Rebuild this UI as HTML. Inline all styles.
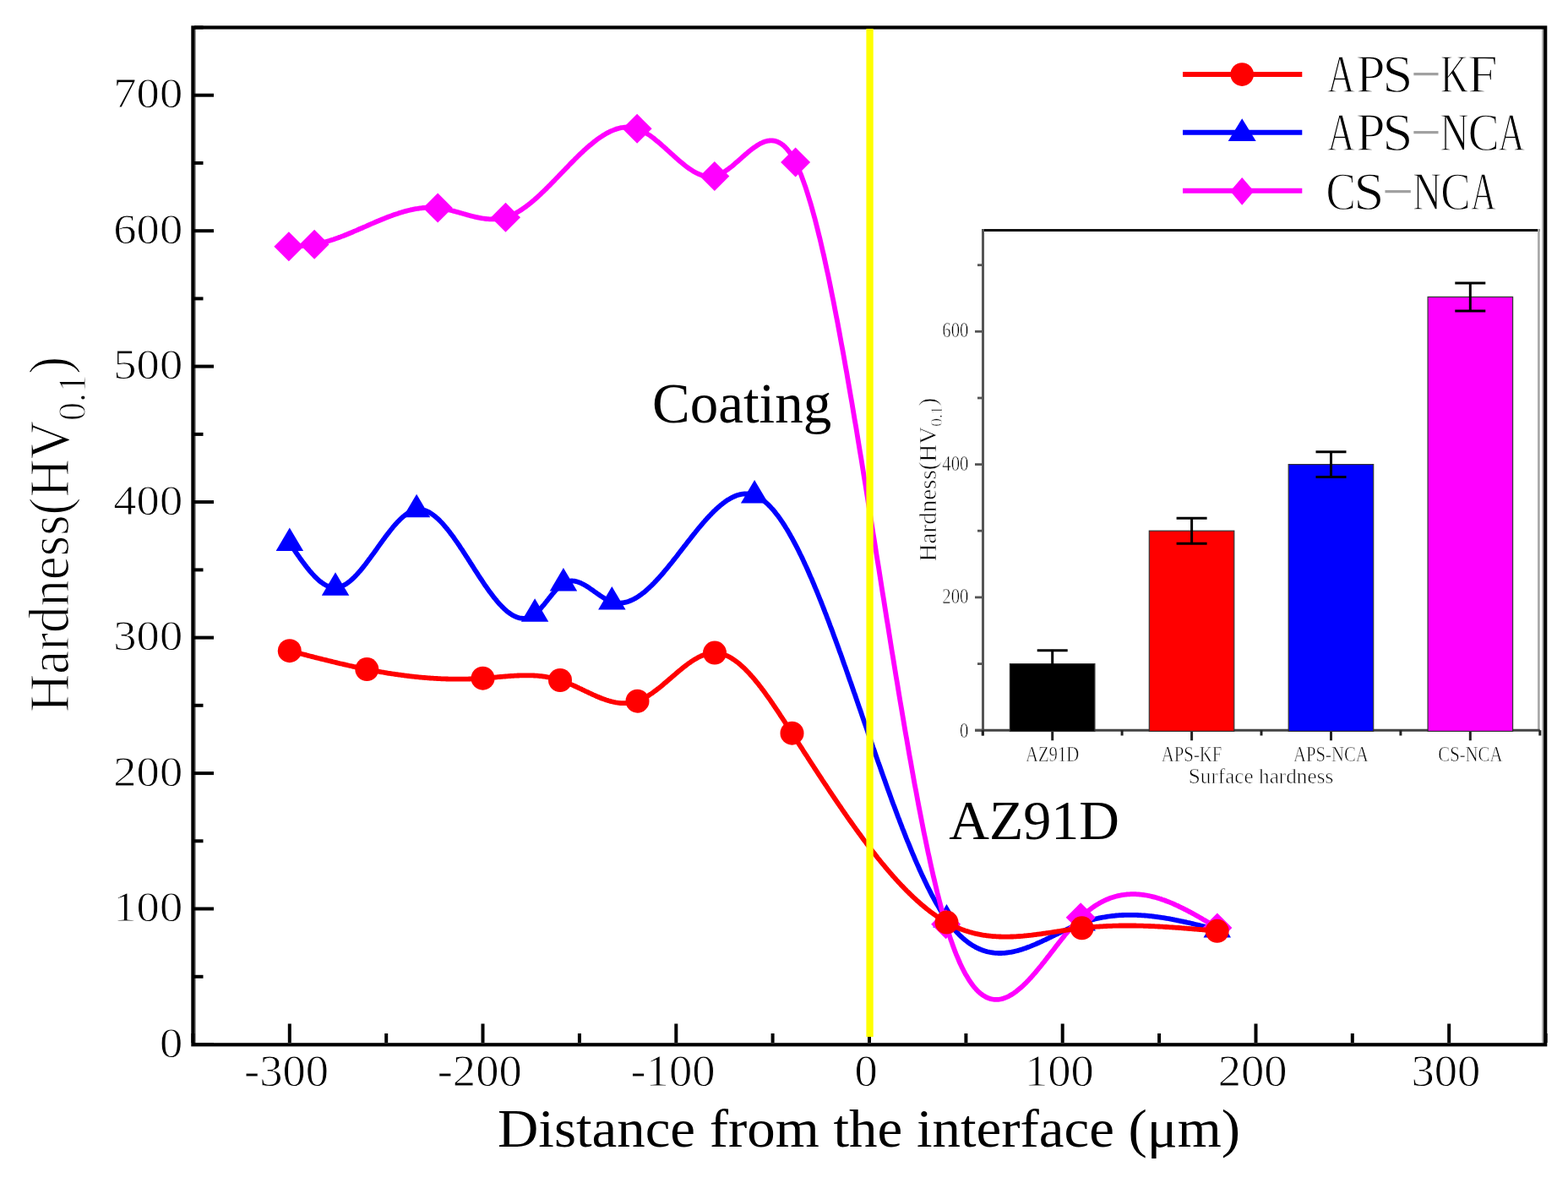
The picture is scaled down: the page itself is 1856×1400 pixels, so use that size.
<!DOCTYPE html><html><head><meta charset="utf-8"><title>Hardness profile</title>
<style>html,body{margin:0;padding:0;background:#fff;}svg{display:block;}text{font-family:'Liberation Serif', 'Times New Roman', serif;fill:#000;} .thin{stroke:#fff;stroke-width:0.9px;} .thin2{stroke:#fff;stroke-width:0.6px;} .thin3{stroke:#fff;stroke-width:1.2px;} .thin4{stroke:#fff;stroke-width:1.3px;}</style></head><body>
<svg width="1856" height="1400" viewBox="0 0 1856 1400">
<rect x="0" y="0" width="1856" height="1400" fill="#fff"/>
<path d="M342.8,642.7 L344.0,644.5 L345.3,646.3 L346.5,648.1 L347.7,649.9 L348.9,651.7 L350.1,653.5 L351.4,655.3 L352.6,657.0 L353.8,658.7 L355.0,660.5 L356.2,662.2 L357.5,663.8 L358.7,665.5 L359.9,667.1 L361.1,668.7 L362.4,670.3 L363.6,671.9 L364.8,673.4 L366.0,674.9 L367.2,676.3 L368.5,677.7 L369.7,679.1 L370.9,680.4 L372.1,681.7 L373.3,683.0 L374.6,684.2 L375.8,685.3 L377.0,686.4 L378.2,687.4 L379.4,688.4 L380.7,689.4 L381.9,690.2 L383.1,691.1 L384.3,691.8 L385.6,692.5 L386.8,693.1 L388.0,693.7 L389.2,694.2 L390.4,694.6 L391.7,694.9 L392.9,695.2 L394.1,695.4 L395.3,695.5 L396.5,695.5 L397.8,695.5 L399.0,695.4 L400.2,695.2 L401.4,694.9 L402.7,694.5 L403.9,694.1 L405.1,693.6 L406.3,693.0 L407.5,692.3 L408.8,691.6 L410.0,690.9 L411.2,690.0 L412.4,689.1 L413.6,688.2 L414.9,687.2 L416.1,686.1 L417.3,685.0 L418.5,683.9 L419.7,682.7 L421.0,681.4 L422.2,680.1 L423.4,678.8 L424.6,677.4 L425.9,676.0 L427.1,674.6 L428.3,673.1 L429.5,671.6 L430.7,670.1 L432.0,668.5 L433.2,666.9 L434.4,665.3 L435.6,663.7 L436.8,662.1 L438.1,660.4 L439.3,658.7 L440.5,657.1 L441.7,655.4 L443.0,653.7 L444.2,652.0 L445.4,650.3 L446.6,648.6 L447.8,646.9 L449.1,645.1 L450.3,643.4 L451.5,641.8 L452.7,640.1 L453.9,638.4 L455.2,636.7 L456.4,635.1 L457.6,633.5 L458.8,631.9 L460.1,630.3 L461.3,628.7 L462.5,627.2 L463.7,625.7 L464.9,624.2 L466.2,622.7 L467.4,621.3 L468.6,620.0 L469.8,618.6 L471.0,617.3 L472.3,616.1 L473.5,614.8 L474.7,613.7 L475.9,612.6 L477.1,611.5 L478.4,610.5 L479.6,609.5 L480.8,608.6 L482.0,607.8 L483.3,607.0 L484.5,606.3 L485.7,605.6 L486.9,605.0 L488.1,604.5 L489.4,604.0 L490.6,603.6 L491.8,603.3 L493.0,603.1 L494.2,603.0 L495.5,602.9 L496.7,602.9 L497.9,603.0 L499.1,603.1 L500.4,603.4 L501.6,603.7 L502.8,604.0 L504.0,604.5 L505.2,605.0 L506.5,605.5 L507.7,606.1 L508.9,606.8 L510.1,607.6 L511.3,608.4 L512.6,609.3 L513.8,610.2 L515.0,611.1 L516.2,612.2 L517.4,613.2 L518.7,614.4 L519.9,615.5 L521.1,616.8 L522.3,618.0 L523.6,619.3 L524.8,620.7 L526.0,622.1 L527.2,623.5 L528.4,625.0 L529.7,626.5 L530.9,628.0 L532.1,629.6 L533.3,631.2 L534.5,632.8 L535.8,634.5 L537.0,636.1 L538.2,637.9 L539.4,639.6 L540.7,641.4 L541.9,643.1 L543.1,644.9 L544.3,646.7 L545.5,648.6 L546.8,650.4 L548.0,652.3 L549.2,654.2 L550.4,656.0 L551.6,657.9 L552.9,659.8 L554.1,661.7 L555.3,663.6 L556.5,665.6 L557.8,667.5 L559.0,669.4 L560.2,671.3 L561.4,673.2 L562.6,675.1 L563.9,677.0 L565.1,678.9 L566.3,680.8 L567.5,682.6 L568.7,684.5 L570.0,686.3 L571.2,688.2 L572.4,690.0 L573.6,691.8 L574.8,693.6 L576.1,695.3 L577.3,697.0 L578.5,698.8 L579.7,700.4 L581.0,702.1 L582.2,703.7 L583.4,705.3 L584.6,706.9 L585.8,708.4 L587.1,709.9 L588.3,711.4 L589.5,712.8 L590.7,714.2 L591.9,715.5 L593.2,716.8 L594.4,718.1 L595.6,719.3 L596.8,720.5 L598.1,721.6 L599.3,722.7 L600.5,723.7 L601.7,724.6 L602.9,725.5 L604.2,726.4 L605.4,727.2 L606.6,727.9 L607.8,728.6 L609.0,729.2 L610.3,729.8 L611.5,730.3 L612.7,730.7 L613.9,731.1 L615.1,731.4 L616.4,731.6 L617.6,731.7 L618.8,731.8 L620.0,731.8 L621.3,731.7 L622.5,731.5 L623.7,731.3 L624.9,731.0 L626.1,730.6 L627.4,730.1 L628.6,729.5 L629.8,728.9 L631.0,728.1 L632.2,727.3 L633.5,726.4 L634.7,725.3 L635.9,724.2 L637.1,723.1 L638.4,721.8 L639.6,720.5 L640.8,719.1 L642.0,717.7 L643.2,716.3 L644.5,714.8 L645.7,713.3 L646.9,711.8 L648.1,710.2 L649.3,708.7 L650.6,707.2 L651.8,705.6 L653.0,704.1 L654.2,702.6 L655.5,701.2 L656.7,699.8 L657.9,698.4 L659.1,697.1 L660.3,695.8 L661.6,694.6 L662.8,693.5 L664.0,692.5 L665.2,691.5 L666.4,690.7 L667.7,690.0 L668.9,689.3 L670.1,688.8 L671.3,688.4 L672.5,688.0 L673.8,687.8 L675.0,687.6 L676.2,687.5 L677.4,687.5 L678.7,687.6 L679.9,687.7 L681.1,687.9 L682.3,688.2 L683.5,688.6 L684.8,689.0 L686.0,689.4 L687.2,689.9 L688.4,690.5 L689.6,691.1 L690.9,691.7 L692.1,692.4 L693.3,693.1 L694.5,693.9 L695.8,694.6 L697.0,695.4 L698.2,696.3 L699.4,697.1 L700.6,698.0 L701.9,698.8 L703.1,699.7 L704.3,700.6 L705.5,701.4 L706.7,702.3 L708.0,703.2 L709.2,704.0 L710.4,704.8 L711.6,705.6 L712.8,706.4 L714.1,707.2 L715.3,708.0 L716.5,708.7 L717.7,709.3 L719.0,710.0 L720.2,710.6 L721.4,711.1 L722.6,711.6 L723.8,712.1 L725.1,712.5 L726.3,712.8 L727.5,713.1 L728.7,713.3 L729.9,713.4 L731.2,713.6 L732.4,713.6 L733.6,713.6 L734.8,713.6 L736.1,713.5 L737.3,713.4 L738.5,713.2 L739.7,712.9 L740.9,712.6 L742.2,712.3 L743.4,711.9 L744.6,711.5 L745.8,711.0 L747.0,710.5 L748.3,710.0 L749.5,709.4 L750.7,708.7 L751.9,708.1 L753.2,707.4 L754.4,706.6 L755.6,705.8 L756.8,705.0 L758.0,704.2 L759.3,703.3 L760.5,702.3 L761.7,701.4 L762.9,700.4 L764.1,699.4 L765.4,698.3 L766.6,697.2 L767.8,696.1 L769.0,695.0 L770.2,693.8 L771.5,692.6 L772.7,691.4 L773.9,690.2 L775.1,688.9 L776.4,687.6 L777.6,686.3 L778.8,685.0 L780.0,683.7 L781.2,682.3 L782.5,680.9 L783.7,679.5 L784.9,678.1 L786.1,676.6 L787.3,675.2 L788.6,673.7 L789.8,672.2 L791.0,670.8 L792.2,669.2 L793.5,667.7 L794.7,666.2 L795.9,664.7 L797.1,663.1 L798.3,661.6 L799.6,660.0 L800.8,658.5 L802.0,656.9 L803.2,655.3 L804.4,653.8 L805.7,652.2 L806.9,650.6 L808.1,649.0 L809.3,647.4 L810.5,645.9 L811.8,644.3 L813.0,642.7 L814.2,641.1 L815.4,639.6 L816.7,638.0 L817.9,636.4 L819.1,634.9 L820.3,633.4 L821.5,631.8 L822.8,630.3 L824.0,628.8 L825.2,627.3 L826.4,625.8 L827.6,624.3 L828.9,622.8 L830.1,621.4 L831.3,620.0 L832.5,618.5 L833.8,617.1 L835.0,615.7 L836.2,614.4 L837.4,613.0 L838.6,611.7 L839.9,610.4 L841.1,609.1 L842.3,607.9 L843.5,606.6 L844.7,605.4 L846.0,604.2 L847.2,603.0 L848.4,601.9 L849.6,600.8 L850.9,599.7 L852.1,598.7 L853.3,597.6 L854.5,596.7 L855.7,595.7 L857.0,594.8 L858.2,593.9 L859.4,593.0 L860.6,592.2 L861.8,591.4 L863.1,590.7 L864.3,590.0 L865.5,589.3 L866.7,588.7 L867.9,588.1 L869.2,587.5 L870.4,587.0 L871.6,586.5 L872.8,586.1 L874.1,585.7 L875.3,585.4 L876.5,585.1 L877.7,584.9 L878.9,584.7 L880.2,584.5 L881.4,584.5 L882.6,584.4 L883.8,584.4 L885.0,584.5 L886.3,584.6 L887.5,584.8 L888.7,585.0 L889.9,585.3 L891.2,585.6 L892.4,586.0 L893.6,586.4 L894.8,586.9 L896.0,587.5 L897.3,588.1 L898.5,588.8 L899.7,589.5 L900.9,590.3 L902.1,591.2 L903.4,592.1 L904.6,593.0 L905.8,594.0 L907.0,595.1 L908.2,596.2 L909.5,597.4 L910.7,598.6 L911.9,599.8 L913.1,601.2 L914.4,602.5 L915.6,603.9 L916.8,605.4 L918.0,606.9 L919.2,608.5 L920.5,610.1 L921.7,611.7 L922.9,613.4 L924.1,615.1 L925.3,616.9 L926.6,618.7 L927.8,620.6 L929.0,622.5 L930.2,624.5 L931.5,626.5 L932.7,628.5 L933.9,630.6 L935.1,632.7 L936.3,634.9 L937.6,637.1 L938.8,639.3 L940.0,641.6 L941.2,643.9 L942.4,646.2 L943.7,648.6 L944.9,651.0 L946.1,653.5 L947.3,656.0 L948.6,658.5 L949.8,661.0 L951.0,663.6 L952.2,666.3 L953.4,668.9 L954.7,671.6 L955.9,674.3 L957.1,677.0 L958.3,679.8 L959.5,682.6 L960.8,685.4 L962.0,688.3 L963.2,691.2 L964.4,694.1 L965.6,697.0 L966.9,700.0 L968.1,703.0 L969.3,706.0 L970.5,709.0 L971.8,712.1 L973.0,715.2 L974.2,718.3 L975.4,721.4 L976.6,724.6 L977.9,727.7 L979.1,730.9 L980.3,734.1 L981.5,737.3 L982.7,740.6 L984.0,743.9 L985.2,747.1 L986.4,750.4 L987.6,753.7 L988.9,757.1 L990.1,760.4 L991.3,763.8 L992.5,767.1 L993.7,770.5 L995.0,773.9 L996.2,777.3 L997.4,780.8 L998.6,784.2 L999.8,787.6 L1001.1,791.1 L1002.3,794.6 L1003.5,798.0 L1004.7,801.5 L1005.9,805.0 L1007.2,808.5 L1008.4,812.0 L1009.6,815.5 L1010.8,819.0 L1012.1,822.5 L1013.3,826.1 L1014.5,829.6 L1015.7,833.1 L1016.9,836.6 L1018.2,840.2 L1019.4,843.7 L1020.6,847.3 L1021.8,850.8 L1023.0,854.3 L1024.3,857.9 L1025.5,861.4 L1026.7,864.9 L1027.9,868.5 L1029.2,872.0 L1030.4,875.5 L1031.6,879.1 L1032.8,882.6 L1034.0,886.1 L1035.3,889.6 L1036.5,893.1 L1037.7,896.6 L1038.9,900.1 L1040.1,903.6 L1041.4,907.1 L1042.6,910.5 L1043.8,914.0 L1045.0,917.4 L1046.3,920.9 L1047.5,924.3 L1048.7,927.7 L1049.9,931.1 L1051.1,934.5 L1052.4,937.9 L1053.6,941.2 L1054.8,944.6 L1056.0,947.9 L1057.2,951.2 L1058.5,954.5 L1059.7,957.8 L1060.9,961.1 L1062.1,964.3 L1063.3,967.5 L1064.6,970.7 L1065.8,973.9 L1067.0,977.1 L1068.2,980.3 L1069.5,983.4 L1070.7,986.5 L1071.9,989.6 L1073.1,992.7 L1074.3,995.7 L1075.6,998.7 L1076.8,1001.7 L1078.0,1004.7 L1079.2,1007.6 L1080.4,1010.5 L1081.7,1013.4 L1082.9,1016.3 L1084.1,1019.1 L1085.3,1021.9 L1086.6,1024.7 L1087.8,1027.5 L1089.0,1030.2 L1090.2,1032.9 L1091.4,1035.5 L1092.7,1038.1 L1093.9,1040.7 L1095.1,1043.3 L1096.3,1045.8 L1097.5,1048.3 L1098.8,1050.8 L1100.0,1053.2 L1101.2,1055.6 L1102.4,1058.0 L1103.6,1060.3 L1104.9,1062.6 L1106.1,1064.8 L1107.3,1067.0 L1108.5,1069.2 L1109.8,1071.3 L1111.0,1073.4 L1112.2,1075.4 L1113.4,1077.4 L1114.6,1079.4 L1115.9,1081.3 L1117.1,1083.2 L1118.3,1085.0 L1119.5,1086.8 L1120.7,1088.6 L1122.0,1090.3 L1123.2,1091.9 L1124.4,1093.5 L1125.6,1095.1 L1126.9,1096.6 L1128.1,1098.1 L1129.3,1099.6 L1130.5,1101.0 L1131.7,1102.3 L1133.0,1103.7 L1134.2,1104.9 L1135.4,1106.2 L1136.6,1107.4 L1137.8,1108.5 L1139.1,1109.7 L1140.3,1110.8 L1141.5,1111.8 L1142.7,1112.8 L1144.0,1113.8 L1145.2,1114.7 L1146.4,1115.6 L1147.6,1116.5 L1148.8,1117.3 L1150.1,1118.1 L1151.3,1118.9 L1152.5,1119.6 L1153.7,1120.3 L1154.9,1121.0 L1156.2,1121.6 L1157.4,1122.2 L1158.6,1122.7 L1159.8,1123.3 L1161.0,1123.8 L1162.3,1124.2 L1163.5,1124.7 L1164.7,1125.1 L1165.9,1125.5 L1167.2,1125.8 L1168.4,1126.2 L1169.6,1126.5 L1170.8,1126.7 L1172.0,1127.0 L1173.3,1127.2 L1174.5,1127.4 L1175.7,1127.5 L1176.9,1127.7 L1178.1,1127.8 L1179.4,1127.9 L1180.6,1127.9 L1181.8,1128.0 L1183.0,1128.0 L1184.3,1128.0 L1185.5,1128.0 L1186.7,1127.9 L1187.9,1127.9 L1189.1,1127.8 L1190.4,1127.6 L1191.6,1127.5 L1192.8,1127.4 L1194.0,1127.2 L1195.2,1127.0 L1196.5,1126.8 L1197.7,1126.6 L1198.9,1126.3 L1200.1,1126.1 L1201.3,1125.8 L1202.6,1125.5 L1203.8,1125.2 L1205.0,1124.9 L1206.2,1124.5 L1207.5,1124.2 L1208.7,1123.8 L1209.9,1123.4 L1211.1,1123.0 L1212.3,1122.6 L1213.6,1122.2 L1214.8,1121.7 L1216.0,1121.3 L1217.2,1120.8 L1218.4,1120.4 L1219.7,1119.9 L1220.9,1119.4 L1222.1,1118.9 L1223.3,1118.4 L1224.6,1117.9 L1225.8,1117.4 L1227.0,1116.8 L1228.2,1116.3 L1229.4,1115.8 L1230.7,1115.2 L1231.9,1114.6 L1233.1,1114.1 L1234.3,1113.5 L1235.5,1112.9 L1236.8,1112.4 L1238.0,1111.8 L1239.2,1111.2 L1240.4,1110.6 L1241.7,1110.0 L1242.9,1109.4 L1244.1,1108.8 L1245.3,1108.2 L1246.5,1107.6 L1247.8,1107.0 L1249.0,1106.4 L1250.2,1105.9 L1251.4,1105.3 L1252.6,1104.7 L1253.9,1104.1 L1255.1,1103.5 L1256.3,1102.9 L1257.5,1102.3 L1258.7,1101.7 L1260.0,1101.1 L1261.2,1100.6 L1262.4,1100.0 L1263.6,1099.4 L1264.9,1098.9 L1266.1,1098.3 L1267.3,1097.8 L1268.5,1097.2 L1269.7,1096.7 L1271.0,1096.2 L1272.2,1095.7 L1273.4,1095.2 L1274.6,1094.7 L1275.8,1094.2 L1277.1,1093.7 L1278.3,1093.2 L1279.5,1092.8 L1280.7,1092.3 L1282.0,1091.9 L1283.2,1091.5 L1284.4,1091.1 L1285.6,1090.7 L1286.8,1090.3 L1288.1,1089.9 L1289.3,1089.5 L1290.5,1089.2 L1291.7,1088.8 L1292.9,1088.5 L1294.2,1088.2 L1295.4,1087.8 L1296.6,1087.5 L1297.8,1087.2 L1299.0,1087.0 L1300.3,1086.7 L1301.5,1086.4 L1302.7,1086.2 L1303.9,1085.9 L1305.2,1085.7 L1306.4,1085.5 L1307.6,1085.3 L1308.8,1085.1 L1310.0,1084.9 L1311.3,1084.7 L1312.5,1084.5 L1313.7,1084.3 L1314.9,1084.2 L1316.1,1084.0 L1317.4,1083.9 L1318.6,1083.8 L1319.8,1083.6 L1321.0,1083.5 L1322.3,1083.4 L1323.5,1083.3 L1324.7,1083.2 L1325.9,1083.2 L1327.1,1083.1 L1328.4,1083.0 L1329.6,1083.0 L1330.8,1082.9 L1332.0,1082.9 L1333.2,1082.8 L1334.5,1082.8 L1335.7,1082.8 L1336.9,1082.8 L1338.1,1082.8 L1339.4,1082.8 L1340.6,1082.8 L1341.8,1082.8 L1343.0,1082.9 L1344.2,1082.9 L1345.5,1082.9 L1346.7,1083.0 L1347.9,1083.1 L1349.1,1083.1 L1350.3,1083.2 L1351.6,1083.3 L1352.8,1083.3 L1354.0,1083.4 L1355.2,1083.5 L1356.4,1083.6 L1357.7,1083.7 L1358.9,1083.8 L1360.1,1084.0 L1361.3,1084.1 L1362.6,1084.2 L1363.8,1084.4 L1365.0,1084.5 L1366.2,1084.6 L1367.4,1084.8 L1368.7,1085.0 L1369.9,1085.1 L1371.1,1085.3 L1372.3,1085.5 L1373.5,1085.6 L1374.8,1085.8 L1376.0,1086.0 L1377.2,1086.2 L1378.4,1086.4 L1379.7,1086.6 L1380.9,1086.8 L1382.1,1087.0 L1383.3,1087.2 L1384.5,1087.4 L1385.8,1087.7 L1387.0,1087.9 L1388.2,1088.1 L1389.4,1088.3 L1390.6,1088.6 L1391.9,1088.8 L1393.1,1089.1 L1394.3,1089.3 L1395.5,1089.6 L1396.7,1089.8 L1398.0,1090.1 L1399.2,1090.3 L1400.4,1090.6 L1401.6,1090.9 L1402.9,1091.1 L1404.1,1091.4 L1405.3,1091.7 L1406.5,1092.0 L1407.7,1092.2 L1409.0,1092.5 L1410.2,1092.8 L1411.4,1093.1 L1412.6,1093.4 L1413.8,1093.7 L1415.1,1094.0 L1416.3,1094.3 L1417.5,1094.6 L1418.7,1094.9 L1420.0,1095.2 L1421.2,1095.5 L1422.4,1095.8 L1423.6,1096.1 L1424.8,1096.4 L1426.1,1096.7 L1427.3,1097.0 L1428.5,1097.3 L1429.7,1097.6 L1430.9,1097.9 L1432.2,1098.2 L1433.4,1098.5 L1434.6,1098.8 L1435.8,1099.2 L1437.1,1099.5 L1438.3,1099.8 L1439.5,1100.1 L1440.7,1100.4" fill="none" stroke="#0000ff" stroke-width="5.8" stroke-linejoin="round"/>
<polygon points="342.8,624.4 359.1,651.9 326.6,651.9" fill="#0000ff"/>
<polygon points="397.0,677.2 413.3,704.7 380.8,704.7" fill="#0000ff"/>
<polygon points="493.1,584.8 509.3,612.3 476.8,612.3" fill="#0000ff"/>
<polygon points="633.1,708.3 649.3,735.8 616.8,735.8" fill="#0000ff"/>
<polygon points="666.9,672.1 683.2,699.6 650.7,699.6" fill="#0000ff"/>
<polygon points="724.3,693.9 740.6,721.4 708.1,721.4" fill="#0000ff"/>
<polygon points="893.1,567.9 909.4,595.4 876.9,595.4" fill="#0000ff"/>
<polygon points="1120.5,1069.9 1136.7,1097.4 1104.2,1097.4" fill="#0000ff"/>
<polygon points="1280.6,1074.0 1296.9,1101.5 1264.4,1101.5" fill="#0000ff"/>
<polygon points="1440.7,1082.1 1457.0,1109.6 1424.5,1109.6" fill="#0000ff"/>
<path d="M341.9,291.8 L343.1,291.7 L344.3,291.7 L345.6,291.6 L346.8,291.6 L348.0,291.5 L349.2,291.5 L350.5,291.4 L351.7,291.4 L352.9,291.3 L354.1,291.2 L355.3,291.1 L356.6,291.0 L357.8,291.0 L359.0,290.9 L360.2,290.7 L361.5,290.6 L362.7,290.5 L363.9,290.4 L365.1,290.2 L366.3,290.1 L367.6,289.9 L368.8,289.8 L370.0,289.6 L371.2,289.4 L372.5,289.2 L373.7,288.9 L374.9,288.7 L376.1,288.5 L377.3,288.2 L378.6,287.9 L379.8,287.6 L381.0,287.3 L382.2,287.0 L383.5,286.7 L384.7,286.4 L385.9,286.1 L387.1,285.7 L388.4,285.3 L389.6,285.0 L390.8,284.6 L392.0,284.2 L393.2,283.8 L394.5,283.4 L395.7,283.0 L396.9,282.6 L398.1,282.1 L399.4,281.7 L400.6,281.3 L401.8,280.8 L403.0,280.4 L404.2,279.9 L405.5,279.4 L406.7,279.0 L407.9,278.5 L409.1,278.0 L410.4,277.5 L411.6,277.0 L412.8,276.5 L414.0,276.0 L415.2,275.5 L416.5,275.0 L417.7,274.5 L418.9,273.9 L420.1,273.4 L421.4,272.9 L422.6,272.4 L423.8,271.8 L425.0,271.3 L426.2,270.8 L427.5,270.3 L428.7,269.7 L429.9,269.2 L431.1,268.6 L432.4,268.1 L433.6,267.6 L434.8,267.0 L436.0,266.5 L437.3,266.0 L438.5,265.4 L439.7,264.9 L440.9,264.4 L442.1,263.9 L443.4,263.3 L444.6,262.8 L445.8,262.3 L447.0,261.8 L448.3,261.3 L449.5,260.7 L450.7,260.2 L451.9,259.7 L453.1,259.2 L454.4,258.7 L455.6,258.2 L456.8,257.8 L458.0,257.3 L459.3,256.8 L460.5,256.3 L461.7,255.9 L462.9,255.4 L464.1,255.0 L465.4,254.5 L466.6,254.1 L467.8,253.7 L469.0,253.3 L470.3,252.9 L471.5,252.5 L472.7,252.1 L473.9,251.7 L475.2,251.3 L476.4,250.9 L477.6,250.6 L478.8,250.2 L480.0,249.9 L481.3,249.6 L482.5,249.3 L483.7,249.0 L484.9,248.7 L486.2,248.4 L487.4,248.1 L488.6,247.9 L489.8,247.6 L491.0,247.4 L492.3,247.2 L493.5,247.0 L494.7,246.8 L495.9,246.6 L497.2,246.4 L498.4,246.3 L499.6,246.1 L500.8,246.0 L502.0,245.9 L503.3,245.8 L504.5,245.7 L505.7,245.7 L506.9,245.6 L508.2,245.6 L509.4,245.6 L510.6,245.6 L511.8,245.6 L513.0,245.7 L514.3,245.7 L515.5,245.8 L516.7,245.9 L517.9,246.0 L519.2,246.2 L520.4,246.3 L521.6,246.5 L522.8,246.7 L524.1,246.9 L525.3,247.1 L526.5,247.3 L527.7,247.6 L528.9,247.8 L530.2,248.1 L531.4,248.4 L532.6,248.7 L533.8,248.9 L535.1,249.3 L536.3,249.6 L537.5,249.9 L538.7,250.2 L539.9,250.6 L541.2,250.9 L542.4,251.2 L543.6,251.6 L544.8,251.9 L546.1,252.3 L547.3,252.6 L548.5,253.0 L549.7,253.3 L550.9,253.7 L552.2,254.0 L553.4,254.4 L554.6,254.7 L555.8,255.0 L557.1,255.4 L558.3,255.7 L559.5,256.0 L560.7,256.3 L561.9,256.6 L563.2,256.9 L564.4,257.1 L565.6,257.4 L566.8,257.7 L568.1,257.9 L569.3,258.1 L570.5,258.3 L571.7,258.5 L573.0,258.7 L574.2,258.9 L575.4,259.0 L576.6,259.1 L577.8,259.2 L579.1,259.3 L580.3,259.4 L581.5,259.4 L582.7,259.4 L584.0,259.4 L585.2,259.4 L586.4,259.4 L587.6,259.3 L588.8,259.2 L590.1,259.0 L591.3,258.9 L592.5,258.7 L593.7,258.5 L595.0,258.2 L596.2,257.9 L597.4,257.6 L598.6,257.3 L599.8,256.9 L601.1,256.5 L602.3,256.0 L603.5,255.5 L604.7,255.0 L606.0,254.5 L607.2,253.9 L608.4,253.3 L609.6,252.7 L610.9,252.0 L612.1,251.4 L613.3,250.6 L614.5,249.9 L615.7,249.1 L617.0,248.4 L618.2,247.5 L619.4,246.7 L620.6,245.8 L621.9,245.0 L623.1,244.1 L624.3,243.1 L625.5,242.2 L626.7,241.2 L628.0,240.2 L629.2,239.2 L630.4,238.2 L631.6,237.2 L632.9,236.1 L634.1,235.0 L635.3,234.0 L636.5,232.9 L637.7,231.7 L639.0,230.6 L640.2,229.5 L641.4,228.3 L642.6,227.1 L643.9,226.0 L645.1,224.8 L646.3,223.6 L647.5,222.4 L648.7,221.1 L650.0,219.9 L651.2,218.7 L652.4,217.4 L653.6,216.2 L654.9,214.9 L656.1,213.7 L657.3,212.4 L658.5,211.1 L659.8,209.9 L661.0,208.6 L662.2,207.3 L663.4,206.1 L664.6,204.8 L665.9,203.5 L667.1,202.2 L668.3,201.0 L669.5,199.7 L670.8,198.4 L672.0,197.2 L673.2,195.9 L674.4,194.6 L675.6,193.4 L676.9,192.1 L678.1,190.9 L679.3,189.7 L680.5,188.4 L681.8,187.2 L683.0,186.0 L684.2,184.8 L685.4,183.6 L686.6,182.4 L687.9,181.3 L689.1,180.1 L690.3,179.0 L691.5,177.8 L692.8,176.7 L694.0,175.6 L695.2,174.5 L696.4,173.5 L697.6,172.4 L698.9,171.4 L700.1,170.4 L701.3,169.4 L702.5,168.4 L703.8,167.4 L705.0,166.5 L706.2,165.5 L707.4,164.6 L708.7,163.8 L709.9,162.9 L711.1,162.1 L712.3,161.3 L713.5,160.5 L714.8,159.7 L716.0,159.0 L717.2,158.3 L718.4,157.6 L719.7,156.9 L720.9,156.3 L722.1,155.7 L723.3,155.1 L724.5,154.6 L725.8,154.1 L727.0,153.6 L728.2,153.2 L729.4,152.7 L730.7,152.4 L731.9,152.0 L733.1,151.7 L734.3,151.4 L735.5,151.2 L736.8,151.0 L738.0,150.8 L739.2,150.7 L740.4,150.6 L741.7,150.5 L742.9,150.5 L744.1,150.6 L745.3,150.6 L746.5,150.7 L747.8,150.9 L749.0,151.1 L750.2,151.3 L751.4,151.6 L752.7,151.9 L753.9,152.3 L755.1,152.7 L756.3,153.2 L757.6,153.7 L758.8,154.2 L760.0,154.8 L761.2,155.4 L762.4,156.1 L763.7,156.8 L764.9,157.5 L766.1,158.3 L767.3,159.1 L768.6,159.9 L769.8,160.7 L771.0,161.6 L772.2,162.5 L773.4,163.4 L774.7,164.4 L775.9,165.4 L777.1,166.4 L778.3,167.4 L779.6,168.4 L780.8,169.4 L782.0,170.5 L783.2,171.6 L784.4,172.7 L785.7,173.7 L786.9,174.8 L788.1,175.9 L789.3,177.1 L790.6,178.2 L791.8,179.3 L793.0,180.4 L794.2,181.5 L795.5,182.6 L796.7,183.7 L797.9,184.8 L799.1,185.9 L800.3,187.0 L801.6,188.1 L802.8,189.2 L804.0,190.2 L805.2,191.3 L806.5,192.3 L807.7,193.3 L808.9,194.3 L810.1,195.3 L811.3,196.2 L812.6,197.2 L813.8,198.1 L815.0,199.0 L816.2,199.8 L817.5,200.6 L818.7,201.4 L819.9,202.2 L821.1,202.9 L822.3,203.6 L823.6,204.3 L824.8,204.9 L826.0,205.5 L827.2,206.0 L828.5,206.5 L829.7,207.0 L830.9,207.4 L832.1,207.8 L833.3,208.1 L834.6,208.4 L835.8,208.6 L837.0,208.8 L838.2,208.9 L839.5,209.0 L840.7,209.0 L841.9,208.9 L843.1,208.8 L844.4,208.6 L845.6,208.4 L846.8,208.1 L848.0,207.7 L849.2,207.3 L850.5,206.9 L851.7,206.3 L852.9,205.8 L854.1,205.1 L855.4,204.5 L856.6,203.7 L857.8,203.0 L859.0,202.2 L860.2,201.3 L861.5,200.5 L862.7,199.6 L863.9,198.6 L865.1,197.7 L866.4,196.7 L867.6,195.7 L868.8,194.7 L870.0,193.6 L871.2,192.6 L872.5,191.5 L873.7,190.5 L874.9,189.4 L876.1,188.3 L877.4,187.2 L878.6,186.1 L879.8,185.1 L881.0,184.0 L882.2,182.9 L883.5,181.9 L884.7,180.8 L885.9,179.8 L887.1,178.8 L888.4,177.8 L889.6,176.8 L890.8,175.9 L892.0,175.0 L893.3,174.1 L894.5,173.3 L895.7,172.5 L896.9,171.7 L898.1,171.0 L899.4,170.3 L900.6,169.6 L901.8,169.1 L903.0,168.5 L904.3,168.0 L905.5,167.6 L906.7,167.2 L907.9,166.9 L909.1,166.7 L910.4,166.5 L911.6,166.4 L912.8,166.3 L914.0,166.4 L915.3,166.5 L916.5,166.7 L917.7,166.9 L918.9,167.3 L920.1,167.7 L921.4,168.3 L922.6,168.9 L923.8,169.6 L925.0,170.4 L926.3,171.3 L927.5,172.3 L928.7,173.4 L929.9,174.6 L931.2,176.0 L932.4,177.4 L933.6,179.0 L934.8,180.6 L936.0,182.4 L937.3,184.3 L938.5,186.3 L939.7,188.5 L940.9,190.8 L942.2,193.2 L943.4,195.8 L944.6,198.4 L945.8,201.2 L947.0,204.2 L948.3,207.2 L949.5,210.4 L950.7,213.7 L951.9,217.1 L953.2,220.7 L954.4,224.3 L955.6,228.1 L956.8,232.0 L958.0,236.0 L959.3,240.1 L960.5,244.3 L961.7,248.6 L962.9,253.1 L964.2,257.6 L965.4,262.2 L966.6,267.0 L967.8,271.8 L969.0,276.7 L970.3,281.8 L971.5,286.9 L972.7,292.1 L973.9,297.4 L975.2,302.8 L976.4,308.3 L977.6,313.8 L978.8,319.5 L980.1,325.2 L981.3,331.0 L982.5,336.9 L983.7,342.9 L984.9,348.9 L986.2,355.0 L987.4,361.2 L988.6,367.5 L989.8,373.8 L991.1,380.2 L992.3,386.6 L993.5,393.1 L994.7,399.7 L995.9,406.4 L997.2,413.1 L998.4,419.8 L999.6,426.6 L1000.8,433.5 L1002.1,440.4 L1003.3,447.4 L1004.5,454.4 L1005.7,461.5 L1006.9,468.6 L1008.2,475.7 L1009.4,482.9 L1010.6,490.2 L1011.8,497.4 L1013.1,504.7 L1014.3,512.1 L1015.5,519.5 L1016.7,526.9 L1017.9,534.3 L1019.2,541.8 L1020.4,549.3 L1021.6,556.8 L1022.8,564.3 L1024.1,571.9 L1025.3,579.5 L1026.5,587.1 L1027.7,594.7 L1029.0,602.4 L1030.2,610.0 L1031.4,617.7 L1032.6,625.4 L1033.8,633.0 L1035.1,640.7 L1036.3,648.4 L1037.5,656.1 L1038.7,663.8 L1040.0,671.5 L1041.2,679.2 L1042.4,686.9 L1043.6,694.6 L1044.8,702.3 L1046.1,710.0 L1047.3,717.7 L1048.5,725.3 L1049.7,733.0 L1051.0,740.6 L1052.2,748.2 L1053.4,755.8 L1054.6,763.4 L1055.8,770.9 L1057.1,778.5 L1058.3,786.0 L1059.5,793.4 L1060.7,800.9 L1062.0,808.3 L1063.2,815.7 L1064.4,823.1 L1065.6,830.4 L1066.9,837.7 L1068.1,844.9 L1069.3,852.1 L1070.5,859.3 L1071.7,866.4 L1073.0,873.5 L1074.2,880.6 L1075.4,887.5 L1076.6,894.5 L1077.9,901.4 L1079.1,908.2 L1080.3,915.0 L1081.5,921.7 L1082.7,928.4 L1084.0,935.0 L1085.2,941.5 L1086.4,948.0 L1087.6,954.4 L1088.9,960.8 L1090.1,967.1 L1091.3,973.3 L1092.5,979.4 L1093.7,985.5 L1095.0,991.5 L1096.2,997.4 L1097.4,1003.2 L1098.6,1009.0 L1099.9,1014.7 L1101.1,1020.3 L1102.3,1025.8 L1103.5,1031.2 L1104.7,1036.5 L1106.0,1041.8 L1107.2,1046.9 L1108.4,1052.0 L1109.6,1057.0 L1110.9,1061.9 L1112.1,1066.6 L1113.3,1071.3 L1114.5,1075.9 L1115.8,1080.4 L1117.0,1084.7 L1118.2,1089.0 L1119.4,1093.1 L1120.6,1097.2 L1121.9,1101.1 L1123.1,1104.9 L1124.3,1108.7 L1125.5,1112.3 L1126.8,1115.8 L1128.0,1119.2 L1129.2,1122.5 L1130.4,1125.7 L1131.6,1128.8 L1132.9,1131.8 L1134.1,1134.7 L1135.3,1137.5 L1136.5,1140.2 L1137.8,1142.9 L1139.0,1145.4 L1140.2,1147.8 L1141.4,1150.2 L1142.6,1152.4 L1143.9,1154.6 L1145.1,1156.6 L1146.3,1158.6 L1147.5,1160.5 L1148.8,1162.3 L1150.0,1164.1 L1151.2,1165.7 L1152.4,1167.3 L1153.6,1168.7 L1154.9,1170.1 L1156.1,1171.5 L1157.3,1172.7 L1158.5,1173.9 L1159.8,1175.0 L1161.0,1176.0 L1162.2,1176.9 L1163.4,1177.8 L1164.7,1178.6 L1165.9,1179.3 L1167.1,1180.0 L1168.3,1180.5 L1169.5,1181.1 L1170.8,1181.5 L1172.0,1181.9 L1173.2,1182.2 L1174.4,1182.5 L1175.7,1182.7 L1176.9,1182.8 L1178.1,1182.9 L1179.3,1182.9 L1180.5,1182.9 L1181.8,1182.8 L1183.0,1182.7 L1184.2,1182.5 L1185.4,1182.2 L1186.7,1181.9 L1187.9,1181.5 L1189.1,1181.1 L1190.3,1180.6 L1191.5,1180.1 L1192.8,1179.6 L1194.0,1179.0 L1195.2,1178.3 L1196.4,1177.6 L1197.7,1176.9 L1198.9,1176.1 L1200.1,1175.3 L1201.3,1174.4 L1202.6,1173.6 L1203.8,1172.6 L1205.0,1171.6 L1206.2,1170.6 L1207.4,1169.6 L1208.7,1168.5 L1209.9,1167.4 L1211.1,1166.3 L1212.3,1165.1 L1213.6,1163.9 L1214.8,1162.7 L1216.0,1161.4 L1217.2,1160.2 L1218.4,1158.9 L1219.7,1157.5 L1220.9,1156.2 L1222.1,1154.8 L1223.3,1153.4 L1224.6,1152.0 L1225.8,1150.6 L1227.0,1149.1 L1228.2,1147.7 L1229.4,1146.2 L1230.7,1144.7 L1231.9,1143.2 L1233.1,1141.7 L1234.3,1140.1 L1235.6,1138.6 L1236.8,1137.1 L1238.0,1135.5 L1239.2,1133.9 L1240.4,1132.4 L1241.7,1130.8 L1242.9,1129.2 L1244.1,1127.6 L1245.3,1126.1 L1246.6,1124.5 L1247.8,1122.9 L1249.0,1121.3 L1250.2,1119.7 L1251.5,1118.2 L1252.7,1116.6 L1253.9,1115.0 L1255.1,1113.5 L1256.3,1111.9 L1257.6,1110.4 L1258.8,1108.9 L1260.0,1107.3 L1261.2,1105.8 L1262.5,1104.4 L1263.7,1102.9 L1264.9,1101.4 L1266.1,1100.0 L1267.3,1098.5 L1268.6,1097.1 L1269.8,1095.7 L1271.0,1094.4 L1272.2,1093.0 L1273.5,1091.7 L1274.7,1090.4 L1275.9,1089.1 L1277.1,1087.9 L1278.3,1086.7 L1279.6,1085.5 L1280.8,1084.3 L1282.0,1083.2 L1283.2,1082.1 L1284.5,1081.0 L1285.7,1079.9 L1286.9,1078.9 L1288.1,1077.9 L1289.3,1077.0 L1290.6,1076.0 L1291.8,1075.1 L1293.0,1074.2 L1294.2,1073.4 L1295.5,1072.5 L1296.7,1071.7 L1297.9,1070.9 L1299.1,1070.2 L1300.4,1069.4 L1301.6,1068.7 L1302.8,1068.1 L1304.0,1067.4 L1305.2,1066.8 L1306.5,1066.2 L1307.7,1065.6 L1308.9,1065.0 L1310.1,1064.5 L1311.4,1064.0 L1312.6,1063.5 L1313.8,1063.0 L1315.0,1062.6 L1316.2,1062.2 L1317.5,1061.8 L1318.7,1061.4 L1319.9,1061.0 L1321.1,1060.7 L1322.4,1060.4 L1323.6,1060.1 L1324.8,1059.8 L1326.0,1059.6 L1327.2,1059.4 L1328.5,1059.2 L1329.7,1059.0 L1330.9,1058.8 L1332.1,1058.7 L1333.4,1058.5 L1334.6,1058.4 L1335.8,1058.3 L1337.0,1058.3 L1338.3,1058.2 L1339.5,1058.2 L1340.7,1058.2 L1341.9,1058.2 L1343.1,1058.2 L1344.4,1058.2 L1345.6,1058.3 L1346.8,1058.4 L1348.0,1058.4 L1349.3,1058.6 L1350.5,1058.7 L1351.7,1058.8 L1352.9,1059.0 L1354.1,1059.1 L1355.4,1059.3 L1356.6,1059.5 L1357.8,1059.7 L1359.0,1060.0 L1360.3,1060.2 L1361.5,1060.5 L1362.7,1060.8 L1363.9,1061.1 L1365.1,1061.4 L1366.4,1061.7 L1367.6,1062.0 L1368.8,1062.3 L1370.0,1062.7 L1371.3,1063.1 L1372.5,1063.5 L1373.7,1063.8 L1374.9,1064.3 L1376.1,1064.7 L1377.4,1065.1 L1378.6,1065.5 L1379.8,1066.0 L1381.0,1066.5 L1382.3,1066.9 L1383.5,1067.4 L1384.7,1067.9 L1385.9,1068.4 L1387.2,1068.9 L1388.4,1069.4 L1389.6,1070.0 L1390.8,1070.5 L1392.0,1071.1 L1393.3,1071.6 L1394.5,1072.2 L1395.7,1072.8 L1396.9,1073.4 L1398.2,1074.0 L1399.4,1074.6 L1400.6,1075.2 L1401.8,1075.8 L1403.0,1076.4 L1404.3,1077.0 L1405.5,1077.7 L1406.7,1078.3 L1407.9,1079.0 L1409.2,1079.6 L1410.4,1080.3 L1411.6,1080.9 L1412.8,1081.6 L1414.0,1082.3 L1415.3,1083.0 L1416.5,1083.7 L1417.7,1084.3 L1418.9,1085.0 L1420.2,1085.7 L1421.4,1086.4 L1422.6,1087.1 L1423.8,1087.9 L1425.0,1088.6 L1426.3,1089.3 L1427.5,1090.0 L1428.7,1090.7 L1429.9,1091.4 L1431.2,1092.2 L1432.4,1092.9 L1433.6,1093.6 L1434.8,1094.3 L1436.1,1095.1 L1437.3,1095.8 L1438.5,1096.5 L1439.7,1097.3 L1440.9,1098.0" fill="none" stroke="#ff00ff" stroke-width="5.8" stroke-linejoin="round"/>
<polygon points="341.9,274.3 359.4,291.8 341.9,309.3 324.4,291.8" fill="#ff00ff"/>
<polygon points="372.1,271.7 389.6,289.2 372.1,306.7 354.6,289.2" fill="#ff00ff"/>
<polygon points="518.2,228.6 535.7,246.1 518.2,263.6 500.7,246.1" fill="#ff00ff"/>
<polygon points="598.5,239.8 616.0,257.3 598.5,274.8 581.0,257.3" fill="#ff00ff"/>
<polygon points="754.1,134.8 771.6,152.3 754.1,169.8 736.6,152.3" fill="#ff00ff"/>
<polygon points="845.8,190.9 863.3,208.4 845.8,225.9 828.3,208.4" fill="#ff00ff"/>
<polygon points="941.6,174.6 959.1,192.1 941.6,209.6 924.1,192.1" fill="#ff00ff"/>
<polygon points="1119.6,1076.2 1137.1,1093.7 1119.6,1111.2 1102.1,1093.7" fill="#ff00ff"/>
<polygon points="1279.2,1068.3 1296.7,1085.8 1279.2,1103.3 1261.7,1085.8" fill="#ff00ff"/>
<polygon points="1440.9,1080.5 1458.4,1098.0 1440.9,1115.5 1423.4,1098.0" fill="#ff00ff"/>
<path d="M342.8,770.2 L344.0,770.5 L345.3,770.8 L346.5,771.1 L347.7,771.4 L348.9,771.8 L350.1,772.1 L351.4,772.4 L352.6,772.7 L353.8,773.0 L355.0,773.3 L356.2,773.7 L357.5,774.0 L358.7,774.3 L359.9,774.6 L361.1,774.9 L362.4,775.2 L363.6,775.6 L364.8,775.9 L366.0,776.2 L367.2,776.5 L368.5,776.8 L369.7,777.1 L370.9,777.4 L372.1,777.8 L373.3,778.1 L374.6,778.4 L375.8,778.7 L377.0,779.0 L378.2,779.3 L379.4,779.6 L380.7,779.9 L381.9,780.2 L383.1,780.5 L384.3,780.8 L385.6,781.1 L386.8,781.4 L388.0,781.7 L389.2,782.0 L390.4,782.3 L391.7,782.6 L392.9,782.9 L394.1,783.2 L395.3,783.5 L396.5,783.8 L397.8,784.1 L399.0,784.4 L400.2,784.7 L401.4,785.0 L402.7,785.3 L403.9,785.5 L405.1,785.8 L406.3,786.1 L407.5,786.4 L408.8,786.7 L410.0,787.0 L411.2,787.2 L412.4,787.5 L413.6,787.8 L414.9,788.0 L416.1,788.3 L417.3,788.6 L418.5,788.9 L419.7,789.1 L421.0,789.4 L422.2,789.6 L423.4,789.9 L424.6,790.2 L425.9,790.4 L427.1,790.7 L428.3,790.9 L429.5,791.2 L430.7,791.4 L432.0,791.7 L433.2,791.9 L434.4,792.2 L435.6,792.4 L436.8,792.6 L438.1,792.9 L439.3,793.1 L440.5,793.3 L441.7,793.6 L443.0,793.8 L444.2,794.0 L445.4,794.2 L446.6,794.5 L447.8,794.7 L449.1,794.9 L450.3,795.1 L451.5,795.3 L452.7,795.5 L453.9,795.7 L455.2,796.0 L456.4,796.2 L457.6,796.4 L458.8,796.6 L460.1,796.8 L461.3,796.9 L462.5,797.1 L463.7,797.3 L464.9,797.5 L466.2,797.7 L467.4,797.9 L468.6,798.1 L469.8,798.2 L471.0,798.4 L472.3,798.6 L473.5,798.7 L474.7,798.9 L475.9,799.1 L477.1,799.2 L478.4,799.4 L479.6,799.6 L480.8,799.7 L482.0,799.9 L483.3,800.0 L484.5,800.1 L485.7,800.3 L486.9,800.4 L488.1,800.6 L489.4,800.7 L490.6,800.8 L491.8,801.0 L493.0,801.1 L494.2,801.2 L495.5,801.3 L496.7,801.5 L497.9,801.6 L499.1,801.7 L500.4,801.8 L501.6,801.9 L502.8,802.0 L504.0,802.1 L505.2,802.2 L506.5,802.3 L507.7,802.4 L508.9,802.5 L510.1,802.6 L511.3,802.6 L512.6,802.7 L513.8,802.8 L515.0,802.9 L516.2,802.9 L517.4,803.0 L518.7,803.1 L519.9,803.1 L521.1,803.2 L522.3,803.3 L523.6,803.3 L524.8,803.4 L526.0,803.4 L527.2,803.4 L528.4,803.5 L529.7,803.5 L530.9,803.6 L532.1,803.6 L533.3,803.6 L534.5,803.6 L535.8,803.7 L537.0,803.7 L538.2,803.7 L539.4,803.7 L540.7,803.7 L541.9,803.7 L543.1,803.7 L544.3,803.7 L545.5,803.7 L546.8,803.7 L548.0,803.7 L549.2,803.7 L550.4,803.6 L551.6,803.6 L552.9,803.6 L554.1,803.6 L555.3,803.5 L556.5,803.5 L557.8,803.4 L559.0,803.4 L560.2,803.4 L561.4,803.3 L562.6,803.2 L563.9,803.2 L565.1,803.1 L566.3,803.1 L567.5,803.0 L568.7,802.9 L570.0,802.8 L571.2,802.8 L572.4,802.7 L573.6,802.6 L574.8,802.5 L576.1,802.4 L577.3,802.3 L578.5,802.2 L579.7,802.1 L581.0,802.0 L582.2,801.9 L583.4,801.8 L584.6,801.7 L585.8,801.6 L587.1,801.5 L588.3,801.3 L589.5,801.2 L590.7,801.1 L591.9,801.0 L593.2,800.9 L594.4,800.8 L595.6,800.7 L596.8,800.6 L598.1,800.5 L599.3,800.4 L600.5,800.3 L601.7,800.2 L602.9,800.1 L604.2,800.0 L605.4,799.9 L606.6,799.9 L607.8,799.8 L609.0,799.7 L610.3,799.6 L611.5,799.6 L612.7,799.5 L613.9,799.5 L615.1,799.4 L616.4,799.4 L617.6,799.3 L618.8,799.3 L620.0,799.3 L621.3,799.3 L622.5,799.3 L623.7,799.3 L624.9,799.3 L626.1,799.3 L627.4,799.3 L628.6,799.3 L629.8,799.4 L631.0,799.4 L632.2,799.5 L633.5,799.6 L634.7,799.7 L635.9,799.7 L637.1,799.8 L638.4,800.0 L639.6,800.1 L640.8,800.2 L642.0,800.4 L643.2,800.5 L644.5,800.7 L645.7,800.9 L646.9,801.1 L648.1,801.3 L649.3,801.5 L650.6,801.7 L651.8,802.0 L653.0,802.2 L654.2,802.5 L655.5,802.8 L656.7,803.1 L657.9,803.4 L659.1,803.8 L660.3,804.1 L661.6,804.5 L662.8,804.9 L664.0,805.3 L665.2,805.7 L666.4,806.1 L667.7,806.6 L668.9,807.1 L670.1,807.5 L671.3,808.0 L672.5,808.5 L673.8,809.0 L675.0,809.6 L676.2,810.1 L677.4,810.6 L678.7,811.2 L679.9,811.7 L681.1,812.3 L682.3,812.8 L683.5,813.4 L684.8,814.0 L686.0,814.6 L687.2,815.1 L688.4,815.7 L689.6,816.3 L690.9,816.9 L692.1,817.5 L693.3,818.1 L694.5,818.6 L695.8,819.2 L697.0,819.8 L698.2,820.4 L699.4,820.9 L700.6,821.5 L701.9,822.1 L703.1,822.6 L704.3,823.1 L705.5,823.7 L706.7,824.2 L708.0,824.7 L709.2,825.2 L710.4,825.7 L711.6,826.2 L712.8,826.7 L714.1,827.1 L715.3,827.6 L716.5,828.0 L717.7,828.4 L719.0,828.8 L720.2,829.2 L721.4,829.5 L722.6,829.9 L723.8,830.2 L725.1,830.5 L726.3,830.8 L727.5,831.0 L728.7,831.3 L729.9,831.5 L731.2,831.7 L732.4,831.8 L733.6,832.0 L734.8,832.1 L736.1,832.2 L737.3,832.2 L738.5,832.2 L739.7,832.2 L740.9,832.2 L742.2,832.2 L743.4,832.1 L744.6,832.0 L745.8,831.8 L747.0,831.6 L748.3,831.4 L749.5,831.1 L750.7,830.8 L751.9,830.5 L753.2,830.1 L754.4,829.7 L755.6,829.3 L756.8,828.8 L758.0,828.3 L759.3,827.8 L760.5,827.2 L761.7,826.6 L762.9,825.9 L764.1,825.2 L765.4,824.5 L766.6,823.8 L767.8,823.0 L769.0,822.2 L770.2,821.4 L771.5,820.6 L772.7,819.7 L773.9,818.8 L775.1,817.9 L776.4,817.0 L777.6,816.1 L778.8,815.1 L780.0,814.2 L781.2,813.2 L782.5,812.2 L783.7,811.2 L784.9,810.2 L786.1,809.1 L787.3,808.1 L788.6,807.1 L789.8,806.0 L791.0,805.0 L792.2,803.9 L793.5,802.9 L794.7,801.8 L795.9,800.8 L797.1,799.7 L798.3,798.7 L799.6,797.6 L800.8,796.6 L802.0,795.5 L803.2,794.5 L804.4,793.5 L805.7,792.5 L806.9,791.5 L808.1,790.5 L809.3,789.5 L810.5,788.6 L811.8,787.6 L813.0,786.7 L814.2,785.8 L815.4,784.9 L816.7,784.1 L817.9,783.2 L819.1,782.4 L820.3,781.6 L821.5,780.8 L822.8,780.1 L824.0,779.4 L825.2,778.7 L826.4,778.0 L827.6,777.4 L828.9,776.8 L830.1,776.2 L831.3,775.7 L832.5,775.2 L833.8,774.8 L835.0,774.4 L836.2,774.0 L837.4,773.7 L838.6,773.4 L839.9,773.1 L841.1,772.9 L842.3,772.8 L843.5,772.6 L844.7,772.6 L846.0,772.6 L847.2,772.6 L848.4,772.7 L849.6,772.8 L850.9,773.0 L852.1,773.2 L853.3,773.5 L854.5,773.8 L855.7,774.2 L857.0,774.6 L858.2,775.1 L859.4,775.6 L860.6,776.1 L861.8,776.7 L863.1,777.3 L864.3,778.0 L865.5,778.7 L866.7,779.5 L867.9,780.3 L869.2,781.1 L870.4,782.0 L871.6,782.9 L872.8,783.8 L874.1,784.8 L875.3,785.8 L876.5,786.8 L877.7,787.9 L878.9,789.0 L880.2,790.1 L881.4,791.3 L882.6,792.5 L883.8,793.8 L885.0,795.0 L886.3,796.3 L887.5,797.6 L888.7,799.0 L889.9,800.4 L891.2,801.8 L892.4,803.2 L893.6,804.6 L894.8,806.1 L896.0,807.6 L897.3,809.1 L898.5,810.7 L899.7,812.3 L900.9,813.8 L902.1,815.4 L903.4,817.1 L904.6,818.7 L905.8,820.4 L907.0,822.1 L908.2,823.8 L909.5,825.5 L910.7,827.2 L911.9,828.9 L913.1,830.7 L914.4,832.5 L915.6,834.3 L916.8,836.1 L918.0,837.9 L919.2,839.7 L920.5,841.5 L921.7,843.4 L922.9,845.2 L924.1,847.1 L925.3,848.9 L926.6,850.8 L927.8,852.7 L929.0,854.5 L930.2,856.4 L931.5,858.3 L932.7,860.2 L933.9,862.1 L935.1,864.0 L936.3,865.9 L937.6,867.8 L938.8,869.7 L940.0,871.6 L941.2,873.5 L942.4,875.4 L943.7,877.3 L944.9,879.2 L946.1,881.1 L947.3,883.0 L948.6,884.9 L949.8,886.8 L951.0,888.7 L952.2,890.6 L953.4,892.5 L954.7,894.3 L955.9,896.2 L957.1,898.1 L958.3,900.0 L959.5,901.9 L960.8,903.8 L962.0,905.7 L963.2,907.5 L964.4,909.4 L965.6,911.3 L966.9,913.1 L968.1,915.0 L969.3,916.9 L970.5,918.7 L971.8,920.6 L973.0,922.5 L974.2,924.3 L975.4,926.2 L976.6,928.0 L977.9,929.8 L979.1,931.7 L980.3,933.5 L981.5,935.4 L982.7,937.2 L984.0,939.0 L985.2,940.8 L986.4,942.6 L987.6,944.5 L988.9,946.3 L990.1,948.1 L991.3,949.9 L992.5,951.7 L993.7,953.4 L995.0,955.2 L996.2,957.0 L997.4,958.8 L998.6,960.5 L999.8,962.3 L1001.1,964.1 L1002.3,965.8 L1003.5,967.6 L1004.7,969.3 L1005.9,971.0 L1007.2,972.8 L1008.4,974.5 L1009.6,976.2 L1010.8,977.9 L1012.1,979.6 L1013.3,981.3 L1014.5,983.0 L1015.7,984.7 L1016.9,986.3 L1018.2,988.0 L1019.4,989.7 L1020.6,991.3 L1021.8,993.0 L1023.0,994.6 L1024.3,996.2 L1025.5,997.9 L1026.7,999.5 L1027.9,1001.1 L1029.2,1002.7 L1030.4,1004.3 L1031.6,1005.8 L1032.8,1007.4 L1034.0,1009.0 L1035.3,1010.5 L1036.5,1012.1 L1037.7,1013.6 L1038.9,1015.2 L1040.1,1016.7 L1041.4,1018.2 L1042.6,1019.7 L1043.8,1021.2 L1045.0,1022.7 L1046.3,1024.2 L1047.5,1025.6 L1048.7,1027.1 L1049.9,1028.5 L1051.1,1030.0 L1052.4,1031.4 L1053.6,1032.8 L1054.8,1034.2 L1056.0,1035.6 L1057.2,1037.0 L1058.5,1038.4 L1059.7,1039.7 L1060.9,1041.1 L1062.1,1042.4 L1063.3,1043.7 L1064.6,1045.1 L1065.8,1046.4 L1067.0,1047.7 L1068.2,1048.9 L1069.5,1050.2 L1070.7,1051.5 L1071.9,1052.7 L1073.1,1054.0 L1074.3,1055.2 L1075.6,1056.4 L1076.8,1057.6 L1078.0,1058.8 L1079.2,1060.0 L1080.4,1061.1 L1081.7,1062.3 L1082.9,1063.4 L1084.1,1064.5 L1085.3,1065.7 L1086.6,1066.8 L1087.8,1067.8 L1089.0,1068.9 L1090.2,1070.0 L1091.4,1071.0 L1092.7,1072.0 L1093.9,1073.1 L1095.1,1074.1 L1096.3,1075.1 L1097.5,1076.0 L1098.8,1077.0 L1100.0,1077.9 L1101.2,1078.9 L1102.4,1079.8 L1103.6,1080.7 L1104.9,1081.6 L1106.1,1082.4 L1107.3,1083.3 L1108.5,1084.1 L1109.8,1085.0 L1111.0,1085.8 L1112.2,1086.6 L1113.4,1087.4 L1114.6,1088.1 L1115.9,1088.9 L1117.1,1089.6 L1118.3,1090.3 L1119.5,1091.0 L1120.7,1091.7 L1122.0,1092.4 L1123.2,1093.0 L1124.4,1093.7 L1125.6,1094.3 L1126.9,1094.9 L1128.1,1095.5 L1129.3,1096.1 L1130.5,1096.6 L1131.7,1097.2 L1133.0,1097.7 L1134.2,1098.2 L1135.4,1098.7 L1136.6,1099.2 L1137.8,1099.7 L1139.1,1100.1 L1140.3,1100.6 L1141.5,1101.0 L1142.7,1101.4 L1144.0,1101.8 L1145.2,1102.2 L1146.4,1102.6 L1147.6,1103.0 L1148.8,1103.3 L1150.1,1103.6 L1151.3,1104.0 L1152.5,1104.3 L1153.7,1104.6 L1154.9,1104.9 L1156.2,1105.1 L1157.4,1105.4 L1158.6,1105.7 L1159.8,1105.9 L1161.0,1106.1 L1162.3,1106.4 L1163.5,1106.6 L1164.7,1106.8 L1165.9,1106.9 L1167.2,1107.1 L1168.4,1107.3 L1169.6,1107.4 L1170.8,1107.6 L1172.0,1107.7 L1173.3,1107.8 L1174.5,1108.0 L1175.7,1108.1 L1176.9,1108.2 L1178.1,1108.2 L1179.4,1108.3 L1180.6,1108.4 L1181.8,1108.4 L1183.0,1108.5 L1184.3,1108.5 L1185.5,1108.6 L1186.7,1108.6 L1187.9,1108.6 L1189.1,1108.6 L1190.4,1108.6 L1191.6,1108.6 L1192.8,1108.6 L1194.0,1108.6 L1195.2,1108.6 L1196.5,1108.5 L1197.7,1108.5 L1198.9,1108.5 L1200.1,1108.4 L1201.3,1108.3 L1202.6,1108.3 L1203.8,1108.2 L1205.0,1108.1 L1206.2,1108.0 L1207.5,1108.0 L1208.7,1107.9 L1209.9,1107.8 L1211.1,1107.7 L1212.3,1107.5 L1213.6,1107.4 L1214.8,1107.3 L1216.0,1107.2 L1217.2,1107.1 L1218.4,1106.9 L1219.7,1106.8 L1220.9,1106.7 L1222.1,1106.5 L1223.3,1106.4 L1224.6,1106.2 L1225.8,1106.1 L1227.0,1105.9 L1228.2,1105.7 L1229.4,1105.6 L1230.7,1105.4 L1231.9,1105.3 L1233.1,1105.1 L1234.3,1104.9 L1235.5,1104.7 L1236.8,1104.6 L1238.0,1104.4 L1239.2,1104.2 L1240.4,1104.0 L1241.7,1103.8 L1242.9,1103.7 L1244.1,1103.5 L1245.3,1103.3 L1246.5,1103.1 L1247.8,1102.9 L1249.0,1102.7 L1250.2,1102.6 L1251.4,1102.4 L1252.6,1102.2 L1253.9,1102.0 L1255.1,1101.8 L1256.3,1101.6 L1257.5,1101.4 L1258.7,1101.3 L1260.0,1101.1 L1261.2,1100.9 L1262.4,1100.7 L1263.6,1100.5 L1264.9,1100.4 L1266.1,1100.2 L1267.3,1100.0 L1268.5,1099.9 L1269.7,1099.7 L1271.0,1099.5 L1272.2,1099.4 L1273.4,1099.2 L1274.6,1099.0 L1275.8,1098.9 L1277.1,1098.7 L1278.3,1098.6 L1279.5,1098.4 L1280.7,1098.3 L1282.0,1098.2 L1283.2,1098.0 L1284.4,1097.9 L1285.6,1097.8 L1286.8,1097.7 L1288.1,1097.5 L1289.3,1097.4 L1290.5,1097.3 L1291.7,1097.2 L1292.9,1097.1 L1294.2,1097.0 L1295.4,1096.9 L1296.6,1096.8 L1297.8,1096.7 L1299.0,1096.6 L1300.3,1096.6 L1301.5,1096.5 L1302.7,1096.4 L1303.9,1096.3 L1305.2,1096.3 L1306.4,1096.2 L1307.6,1096.1 L1308.8,1096.1 L1310.0,1096.0 L1311.3,1095.9 L1312.5,1095.9 L1313.7,1095.8 L1314.9,1095.8 L1316.1,1095.8 L1317.4,1095.7 L1318.6,1095.7 L1319.8,1095.7 L1321.0,1095.6 L1322.3,1095.6 L1323.5,1095.6 L1324.7,1095.5 L1325.9,1095.5 L1327.1,1095.5 L1328.4,1095.5 L1329.6,1095.5 L1330.8,1095.5 L1332.0,1095.5 L1333.2,1095.5 L1334.5,1095.5 L1335.7,1095.5 L1336.9,1095.5 L1338.1,1095.5 L1339.4,1095.5 L1340.6,1095.5 L1341.8,1095.5 L1343.0,1095.5 L1344.2,1095.5 L1345.5,1095.6 L1346.7,1095.6 L1347.9,1095.6 L1349.1,1095.6 L1350.3,1095.7 L1351.6,1095.7 L1352.8,1095.7 L1354.0,1095.8 L1355.2,1095.8 L1356.4,1095.9 L1357.7,1095.9 L1358.9,1095.9 L1360.1,1096.0 L1361.3,1096.0 L1362.6,1096.1 L1363.8,1096.1 L1365.0,1096.2 L1366.2,1096.2 L1367.4,1096.3 L1368.7,1096.4 L1369.9,1096.4 L1371.1,1096.5 L1372.3,1096.5 L1373.5,1096.6 L1374.8,1096.7 L1376.0,1096.7 L1377.2,1096.8 L1378.4,1096.9 L1379.7,1097.0 L1380.9,1097.0 L1382.1,1097.1 L1383.3,1097.2 L1384.5,1097.3 L1385.8,1097.3 L1387.0,1097.4 L1388.2,1097.5 L1389.4,1097.6 L1390.6,1097.7 L1391.9,1097.8 L1393.1,1097.8 L1394.3,1097.9 L1395.5,1098.0 L1396.7,1098.1 L1398.0,1098.2 L1399.2,1098.3 L1400.4,1098.4 L1401.6,1098.5 L1402.9,1098.6 L1404.1,1098.7 L1405.3,1098.8 L1406.5,1098.9 L1407.7,1099.0 L1409.0,1099.1 L1410.2,1099.2 L1411.4,1099.3 L1412.6,1099.4 L1413.8,1099.5 L1415.1,1099.6 L1416.3,1099.7 L1417.5,1099.8 L1418.7,1099.9 L1420.0,1100.0 L1421.2,1100.1 L1422.4,1100.2 L1423.6,1100.3 L1424.8,1100.4 L1426.1,1100.5 L1427.3,1100.6 L1428.5,1100.8 L1429.7,1100.9 L1430.9,1101.0 L1432.2,1101.1 L1433.4,1101.2 L1434.6,1101.3 L1435.8,1101.4 L1437.1,1101.5 L1438.3,1101.6 L1439.5,1101.7 L1440.7,1101.8" fill="none" stroke="#ff0000" stroke-width="5.8" stroke-linejoin="round"/>
<circle cx="342.8" cy="770.2" r="14" fill="#ff0000"/>
<circle cx="434.3" cy="792.1" r="14" fill="#ff0000"/>
<circle cx="571.5" cy="802.7" r="14" fill="#ff0000"/>
<circle cx="663.0" cy="805.0" r="14" fill="#ff0000"/>
<circle cx="754.5" cy="829.7" r="14" fill="#ff0000"/>
<circle cx="846.0" cy="772.6" r="14" fill="#ff0000"/>
<circle cx="937.5" cy="867.7" r="14" fill="#ff0000"/>
<circle cx="1120.5" cy="1091.6" r="14" fill="#ff0000"/>
<circle cx="1280.6" cy="1098.3" r="14" fill="#ff0000"/>
<circle cx="1440.7" cy="1101.8" r="14" fill="#ff0000"/>
<line x1="1826.4" y1="34" x2="1826.4" y2="1234" stroke="#ababab" stroke-width="2.6"/>
<line x1="231" y1="34" x2="231" y2="1234" stroke="#8a8a8a" stroke-width="1.6"/>
<rect x="228.4" y="32.5" width="1600.8" height="1203.8" fill="none" stroke="#000" stroke-width="4.2"/>
<line x1="230" y1="1236.0" x2="253" y2="1236.0" stroke="#000" stroke-width="4"/>
<line x1="230" y1="1155.8" x2="240.5" y2="1155.8" stroke="#000" stroke-width="4"/>
<line x1="230" y1="1075.5" x2="253" y2="1075.5" stroke="#000" stroke-width="4"/>
<line x1="230" y1="995.3" x2="240.5" y2="995.3" stroke="#000" stroke-width="4"/>
<line x1="230" y1="915.1" x2="253" y2="915.1" stroke="#000" stroke-width="4"/>
<line x1="230" y1="834.8" x2="240.5" y2="834.8" stroke="#000" stroke-width="4"/>
<line x1="230" y1="754.6" x2="253" y2="754.6" stroke="#000" stroke-width="4"/>
<line x1="230" y1="674.4" x2="240.5" y2="674.4" stroke="#000" stroke-width="4"/>
<line x1="230" y1="594.1" x2="253" y2="594.1" stroke="#000" stroke-width="4"/>
<line x1="230" y1="513.9" x2="240.5" y2="513.9" stroke="#000" stroke-width="4"/>
<line x1="230" y1="433.6" x2="253" y2="433.6" stroke="#000" stroke-width="4"/>
<line x1="230" y1="353.4" x2="240.5" y2="353.4" stroke="#000" stroke-width="4"/>
<line x1="230" y1="273.2" x2="253" y2="273.2" stroke="#000" stroke-width="4"/>
<line x1="230" y1="192.9" x2="240.5" y2="192.9" stroke="#000" stroke-width="4"/>
<line x1="230" y1="112.7" x2="253" y2="112.7" stroke="#000" stroke-width="4"/>
<line x1="230" y1="32.5" x2="240.5" y2="32.5" stroke="#000" stroke-width="4"/>
<line x1="228.4" y1="1234" x2="228.4" y2="1223" stroke="#000" stroke-width="4"/>
<line x1="342.8" y1="1234" x2="342.8" y2="1211.5" stroke="#000" stroke-width="4"/>
<line x1="457.2" y1="1234" x2="457.2" y2="1223" stroke="#000" stroke-width="4"/>
<line x1="571.5" y1="1234" x2="571.5" y2="1211.5" stroke="#000" stroke-width="4"/>
<line x1="685.9" y1="1234" x2="685.9" y2="1223" stroke="#000" stroke-width="4"/>
<line x1="800.3" y1="1234" x2="800.3" y2="1211.5" stroke="#000" stroke-width="4"/>
<line x1="914.6" y1="1234" x2="914.6" y2="1223" stroke="#000" stroke-width="4"/>
<line x1="1029.0" y1="1234" x2="1029.0" y2="1211.5" stroke="#000" stroke-width="4"/>
<line x1="1143.4" y1="1234" x2="1143.4" y2="1223" stroke="#000" stroke-width="4"/>
<line x1="1257.7" y1="1234" x2="1257.7" y2="1211.5" stroke="#000" stroke-width="4"/>
<line x1="1372.1" y1="1234" x2="1372.1" y2="1223" stroke="#000" stroke-width="4"/>
<line x1="1486.5" y1="1234" x2="1486.5" y2="1211.5" stroke="#000" stroke-width="4"/>
<line x1="1600.8" y1="1234" x2="1600.8" y2="1223" stroke="#000" stroke-width="4"/>
<line x1="1715.2" y1="1234" x2="1715.2" y2="1211.5" stroke="#000" stroke-width="4"/>
<line x1="1829.6" y1="1234" x2="1829.6" y2="1223" stroke="#000" stroke-width="4"/>
<rect x="1025.4" y="34" width="8.3" height="1193" fill="#ffff00"/>
<text transform="scale(1.06,1)" x="203.96" y="1250.6" font-size="51.5" text-anchor="end" class="thin">0</text>
<text transform="scale(1.06,1)" x="203.96" y="1090.1" font-size="51.5" text-anchor="end" class="thin">100</text>
<text transform="scale(1.06,1)" x="203.96" y="929.7" font-size="51.5" text-anchor="end" class="thin">200</text>
<text transform="scale(1.06,1)" x="203.96" y="769.2" font-size="51.5" text-anchor="end" class="thin">300</text>
<text transform="scale(1.06,1)" x="203.96" y="608.7" font-size="51.5" text-anchor="end" class="thin">400</text>
<text transform="scale(1.06,1)" x="203.96" y="448.2" font-size="51.5" text-anchor="end" class="thin">500</text>
<text transform="scale(1.06,1)" x="203.96" y="287.8" font-size="51.5" text-anchor="end" class="thin">600</text>
<text transform="scale(1.06,1)" x="203.96" y="127.3" font-size="51.5" text-anchor="end" class="thin">700</text>
<text transform="scale(1.03,1)" x="329.14" y="1285" font-size="53" text-anchor="middle" class="thin">-300</text>
<text transform="scale(1.03,1)" x="551.20" y="1285" font-size="53" text-anchor="middle" class="thin">-200</text>
<text transform="scale(1.03,1)" x="773.27" y="1285" font-size="53" text-anchor="middle" class="thin">-100</text>
<text transform="scale(1.03,1)" x="995.34" y="1285" font-size="53" text-anchor="middle" class="thin">0</text>
<text transform="scale(1.03,1)" x="1217.41" y="1285" font-size="53" text-anchor="middle" class="thin">100</text>
<text transform="scale(1.03,1)" x="1439.48" y="1285" font-size="53" text-anchor="middle" class="thin">200</text>
<text transform="scale(1.03,1)" x="1661.54" y="1285" font-size="53" text-anchor="middle" class="thin">300</text>
<text x="589" y="1356.5" font-size="62.7" textLength="879" lengthAdjust="spacingAndGlyphs">Distance from the interface (μm)</text>
<text transform="translate(81,843) rotate(-90) scale(0.937,1)" font-size="67" class="thin3">Hardness(HV<tspan font-size="47" dy="19.5">0.1</tspan><tspan dy="-19.5">)</tspan></text>
<text x="772" y="500.3" font-size="67">Coating</text>
<text x="1123.3" y="993.3" font-size="66">AZ91D</text>
<line x1="1400" y1="88.1" x2="1541.3" y2="88.1" stroke="#ff0000" stroke-width="6"/>
<line x1="1400" y1="156.7" x2="1541.3" y2="156.7" stroke="#0000ff" stroke-width="6"/>
<line x1="1400" y1="225.8" x2="1541.3" y2="225.8" stroke="#ff00ff" stroke-width="6"/>
<circle cx="1470.2" cy="88.1" r="13.8" fill="#ff0000"/>
<polygon points="1470.2,140.2 1486.7,167.1 1453.7,167.1" fill="#0000ff"/>
<polygon points="1470.2,209.9 1484.2,226.3 1470.2,242.7 1456.2,226.3" fill="#ff00ff"/>
<text y="109.4" font-size="64" class="thin4"><tspan x="1571.2" textLength="32.26" lengthAdjust="spacingAndGlyphs">A</tspan><tspan x="1604.9" textLength="34.58" lengthAdjust="spacingAndGlyphs">P</tspan><tspan x="1636.3" textLength="36.32" lengthAdjust="spacingAndGlyphs">S</tspan><tspan x="1670.3" textLength="35.27" lengthAdjust="spacingAndGlyphs" fill="#a0a0a0" stroke="none">−</tspan><tspan x="1704.8" textLength="33.41" lengthAdjust="spacingAndGlyphs">K</tspan><tspan x="1737.1" textLength="35.66" lengthAdjust="spacingAndGlyphs">F</tspan></text>
<text y="178" font-size="64" class="thin4"><tspan x="1571.2" textLength="32.26" lengthAdjust="spacingAndGlyphs">A</tspan><tspan x="1604.9" textLength="34.58" lengthAdjust="spacingAndGlyphs">P</tspan><tspan x="1636.3" textLength="36.32" lengthAdjust="spacingAndGlyphs">S</tspan><tspan x="1670.3" textLength="35.27" lengthAdjust="spacingAndGlyphs" fill="#a0a0a0" stroke="none">−</tspan><tspan x="1704.6" textLength="34.15" lengthAdjust="spacingAndGlyphs">N</tspan><tspan x="1737.7" textLength="36.93" lengthAdjust="spacingAndGlyphs">C</tspan><tspan x="1773.6" textLength="31.14" lengthAdjust="spacingAndGlyphs">A</tspan></text>
<text y="247.6" font-size="64" class="thin4"><tspan x="1569.4" textLength="35.41" lengthAdjust="spacingAndGlyphs">C</tspan><tspan x="1602.3" textLength="36.32" lengthAdjust="spacingAndGlyphs">S</tspan><tspan x="1636.3" textLength="36.72" lengthAdjust="spacingAndGlyphs" fill="#a0a0a0" stroke="none">−</tspan><tspan x="1672.0" textLength="34.04" lengthAdjust="spacingAndGlyphs">N</tspan><tspan x="1705.2" textLength="35.41" lengthAdjust="spacingAndGlyphs">C</tspan><tspan x="1740.9" textLength="29.81" lengthAdjust="spacingAndGlyphs">A</tspan></text>
<g>
<line x1="1163.5" y1="272.5" x2="1822.7" y2="272.5" stroke="#0a0a0a" stroke-width="2.8"/>
<line x1="1163.5" y1="271" x2="1163.5" y2="870.5" stroke="#555" stroke-width="3"/>
<line x1="1821.4" y1="271" x2="1821.4" y2="864.2" stroke="#a8a8a8" stroke-width="2.7"/>
<line x1="1154" y1="864.2" x2="1822.7" y2="864.2" stroke="#444" stroke-width="3"/>
<line x1="1154" y1="864.2" x2="1163" y2="864.2" stroke="#555" stroke-width="2.8"/>
<line x1="1157" y1="785.6" x2="1163" y2="785.6" stroke="#555" stroke-width="2.8"/>
<line x1="1154" y1="706.9" x2="1163" y2="706.9" stroke="#555" stroke-width="2.8"/>
<line x1="1157" y1="628.2" x2="1163" y2="628.2" stroke="#555" stroke-width="2.8"/>
<line x1="1154" y1="549.6" x2="1163" y2="549.6" stroke="#555" stroke-width="2.8"/>
<line x1="1157" y1="471.0" x2="1163" y2="471.0" stroke="#555" stroke-width="2.8"/>
<line x1="1154" y1="392.3" x2="1163" y2="392.3" stroke="#555" stroke-width="2.8"/>
<line x1="1157" y1="313.7" x2="1163" y2="313.7" stroke="#555" stroke-width="2.8"/>
<line x1="1163.2" y1="864.2" x2="1163.2" y2="870.5" stroke="#222" stroke-width="3"/>
<line x1="1245.7" y1="864.2" x2="1245.7" y2="876.3" stroke="#222" stroke-width="3"/>
<line x1="1328.1" y1="864.2" x2="1328.1" y2="870.5" stroke="#222" stroke-width="3"/>
<line x1="1410.6" y1="864.2" x2="1410.6" y2="876.3" stroke="#222" stroke-width="3"/>
<line x1="1493.0" y1="864.2" x2="1493.0" y2="870.5" stroke="#222" stroke-width="3"/>
<line x1="1575.5" y1="864.2" x2="1575.5" y2="876.3" stroke="#222" stroke-width="3"/>
<line x1="1657.9" y1="864.2" x2="1657.9" y2="870.5" stroke="#222" stroke-width="3"/>
<line x1="1740.3" y1="864.2" x2="1740.3" y2="876.3" stroke="#222" stroke-width="3"/>
<line x1="1822.8" y1="864.2" x2="1822.8" y2="870.5" stroke="#222" stroke-width="3"/>
<rect x="1195.4" y="785.6" width="100.5" height="79.9" fill="#000000" stroke="#333" stroke-width="1.2"/>
<rect x="1360.3" y="628.2" width="100.5" height="237.2" fill="#ff0000" stroke="#333" stroke-width="1.2"/>
<rect x="1525.2" y="549.6" width="100.5" height="315.8" fill="#0000ff" stroke="#333" stroke-width="1.2"/>
<rect x="1690.1" y="351.4" width="100.5" height="514.0" fill="#ff00ff" stroke="#333" stroke-width="1.2"/>
<line x1="1245.7" y1="769.8" x2="1245.7" y2="801.3" stroke="#000" stroke-width="3"/>
<line x1="1227.7" y1="769.8" x2="1263.7" y2="769.8" stroke="#000" stroke-width="3"/>
<line x1="1227.7" y1="801.3" x2="1263.7" y2="801.3" stroke="#000" stroke-width="3"/>
<line x1="1410.6" y1="613.3" x2="1410.6" y2="643.2" stroke="#000" stroke-width="3"/>
<line x1="1392.6" y1="613.3" x2="1428.6" y2="613.3" stroke="#000" stroke-width="3"/>
<line x1="1392.6" y1="643.2" x2="1428.6" y2="643.2" stroke="#000" stroke-width="3"/>
<line x1="1575.5" y1="534.7" x2="1575.5" y2="564.5" stroke="#000" stroke-width="3"/>
<line x1="1557.5" y1="534.7" x2="1593.5" y2="534.7" stroke="#000" stroke-width="3"/>
<line x1="1557.5" y1="564.5" x2="1593.5" y2="564.5" stroke="#000" stroke-width="3"/>
<line x1="1740.3" y1="334.9" x2="1740.3" y2="367.9" stroke="#000" stroke-width="3"/>
<line x1="1722.3" y1="334.9" x2="1758.3" y2="334.9" stroke="#000" stroke-width="3"/>
<line x1="1722.3" y1="367.9" x2="1758.3" y2="367.9" stroke="#000" stroke-width="3"/>
<text transform="scale(0.83,1)" x="1381.3" y="873.1" font-size="25" text-anchor="end" class="thin2">0</text>
<text transform="scale(0.83,1)" x="1381.3" y="714.1" font-size="25" text-anchor="end" class="thin2">200</text>
<text transform="scale(0.83,1)" x="1381.3" y="556.8" font-size="25" text-anchor="end" class="thin2">400</text>
<text transform="scale(0.83,1)" x="1381.3" y="399.5" font-size="25" text-anchor="end" class="thin2">600</text>
<text transform="scale(0.83,1)" x="1500.8" y="901" font-size="25" text-anchor="middle" class="thin2">AZ91D</text>
<text transform="scale(0.83,1)" x="1699.5" y="901" font-size="25" text-anchor="middle" class="thin2">APS-KF</text>
<text transform="scale(0.83,1)" x="1898.1" y="901" font-size="25" text-anchor="middle" class="thin2">APS-NCA</text>
<text transform="scale(0.83,1)" x="2096.8" y="901" font-size="25" text-anchor="middle" class="thin2">CS-NCA</text>
<text transform="scale(0.97,1)" x="1538.7" y="927.4" font-size="26" text-anchor="middle" class="thin2">Surface hardness</text>
<text transform="translate(1107.5,664.4) rotate(-90) scale(1.02,1)" font-size="28.5" class="thin2">Hardness(HV<tspan font-size="19" dy="7">0.1</tspan><tspan dy="-7">)</tspan></text>
</g>
</svg></body></html>
